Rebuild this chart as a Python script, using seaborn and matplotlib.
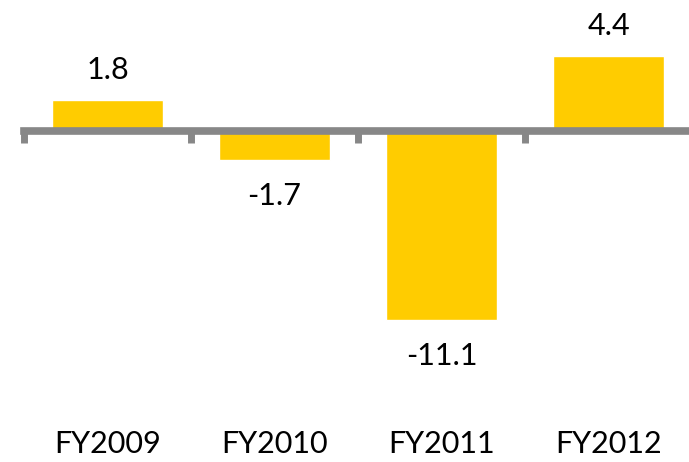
import matplotlib
matplotlib.use("Agg")
import matplotlib.pyplot as plt
import seaborn as sns
import pandas as pd

# --- data ---
years = ["FY2009", "FY2010", "FY2011", "FY2012"]
values = [1.8, -1.7, -11.1, 4.4]

df = pd.DataFrame({"year": years, "value": values})

sns.set_style("white")
plt.rcParams["font.family"] = ["Lato", "DejaVu Sans"]

fig = plt.figure(figsize=(6.89, 4.62), dpi=100)
ax = fig.add_axes([24 / 689, 0, 668 / 689, 1])

sns.barplot(data=df, x="year", y="value", color="#FFCC00", saturation=1,
            width=0.67, ax=ax)

# zero axis at y=131px, 17px per unit
ax.set_ylim(-331 / 17, 131 / 17)
ax.set_xlim(-0.5, 3.5)

for s in ["top", "right", "left"]:
    ax.spines[s].set_visible(False)
ax.spines["bottom"].set_position(("data", 0))
ax.spines["bottom"].set_color("#878787")
ax.spines["bottom"].set_linewidth(5.5)
ax.spines["bottom"].set_zorder(3)

ax.set_yticks([])
ax.set_xticks([-0.5, 0.5, 1.5, 2.5, 3.5], minor=True)
ax.tick_params(axis="x", which="minor", bottom=True, length=8.5, width=5,
               color="#878787", direction="out")
ax.tick_params(axis="x", which="major", bottom=True, length=0, pad=215,
               labelsize=22, labelcolor="#000000")
ax.set_xlabel("")
ax.set_ylabel("")

# value labels
for i, v in enumerate(values):
    off = 22 if v > 0 else -26
    ax.annotate(f"{v:.1f}", (i, v), xytext=(0, off), textcoords="offset points",
                ha="center", va="center", fontsize=22, color="#000000")

fig.savefig("out.png", dpi=100)
